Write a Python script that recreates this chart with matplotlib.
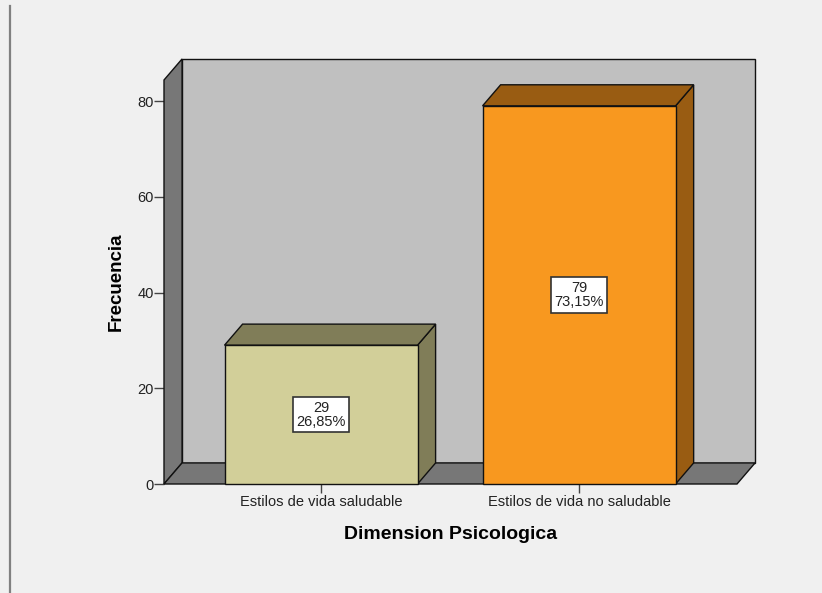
import matplotlib.pyplot as plt
from matplotlib.patches import Polygon, Rectangle
from matplotlib.lines import Line2D

plt.rcParams['font.family'] = ['Liberation Sans', 'DejaVu Sans']

categorias = ['Estilos de vida saludable', 'Estilos de vida no saludable']
frecuencias = [29, 79]
colores_frente = ['#d2cf99', '#f8981f']
colores_sombra = ['#807d58', '#995c12']
total = sum(frecuencias)

W, H = 822, 593
fig = plt.figure(figsize=(W / 100, H / 100), dpi=100, facecolor='#f0f0f0')

# marco frontal del grafico en pixeles
px0, px1, py0, py1 = 164, 737, 484, 80
ax = fig.add_axes([px0 / W, (H - py0) / H, (px1 - px0) / W, (py0 - py1) / H])
ax.set_facecolor('none')

xmin, xmax = -0.6085, 1.612
ymin, ymax = 0, 84.4
ax.set_xlim(xmin, xmax)
ax.set_ylim(ymin, ymax)

# profundidad del efecto 3D en coordenadas de datos
dx, dy = 0.07, 4.4
gris_pared = '#c0c0c0'
gris_lado = '#777777'
borde = dict(edgecolor='#111111', linewidth=1.0, clip_on=False)

# pared del fondo
ax.add_patch(Rectangle((xmin + dx, ymin + dy), xmax - xmin, ymax - ymin,
                       facecolor=gris_pared, zorder=1, **borde))
# pared izquierda
ax.add_patch(Polygon([(xmin, ymin), (xmin + dx, ymin + dy), (xmin + dx, ymax + dy),
                      (xmin, ymax)], facecolor=gris_lado, zorder=2, **borde))
# piso
ax.add_patch(Polygon([(xmin, ymin), (xmax, ymin), (xmax + dx, ymin + dy),
                      (xmin + dx, ymin + dy)], facecolor=gris_lado, zorder=2, **borde))

ancho = 0.748
for i, (f, cf, cs) in enumerate(zip(frecuencias, colores_frente, colores_sombra)):
    a, b = i - ancho / 2, i + ancho / 2
    ax.add_patch(Polygon([(b, 0), (b + dx, dy), (b + dx, f + dy), (b, f)],
                         facecolor=cs, zorder=3, **borde))
    ax.add_patch(Polygon([(a, f), (b, f), (b + dx, f + dy), (a + dx, f + dy)],
                         facecolor=cs, zorder=3, **borde))
    ax.add_patch(Rectangle((a, 0), ancho, f, facecolor=cf, zorder=4, **borde))
    pct = f'{f / total * 100:.2f}'.replace('.', ',')
    ax.text(i, f / 2, f'{f}\n{pct}%', ha='center', va='center', fontsize=10.5,
            linespacing=1.0, color='#222222', zorder=5,
            bbox=dict(boxstyle='square,pad=0.25', facecolor='white',
                      edgecolor='#333333', linewidth=1.2))

for s in ax.spines.values():
    s.set_visible(False)

ax.set_yticks([0, 20, 40, 60, 80])
ax.set_xticks(range(len(categorias)))
ax.set_xticklabels(categorias)
ax.tick_params(axis='y', length=7, width=1, color='#444444', pad=0.5,
               labelsize=10.5, labelcolor='#222222')
ax.tick_params(axis='x', length=6.5, width=1, color='#444444', pad=1.5,
               labelsize=10.5, labelcolor='#222222')

ax.set_ylabel('Frecuencia', fontsize=13.5, fontweight='bold', labelpad=9)
ax.set_xlabel('Dimension Psicologica', fontsize=14, fontweight='bold', labelpad=12)

# linea vertical del borde izquierdo
fig.add_artist(Line2D([10 / W, 10 / W], [0, 1 - 6 / H], color='#808080', linewidth=1.6))

fig.savefig('out.png', dpi=100, facecolor=fig.get_facecolor())
